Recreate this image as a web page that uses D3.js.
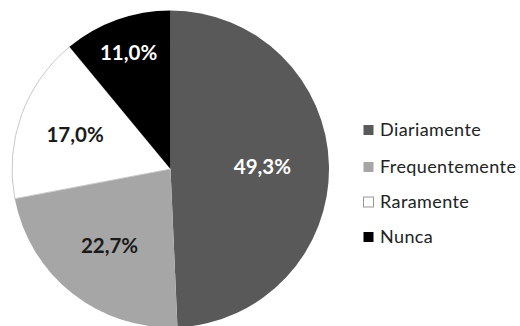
<!DOCTYPE html>
<html><head><meta charset="utf-8">
<script src="https://cdn.jsdelivr.net/npm/d3@7"></script>
<style>body{margin:0;background:#fff}svg{display:block}</style>
</head><body>
<svg id="c" width="520" height="326"></svg>
<script>
const categories = ["Diariamente", "Frequentemente", "Raramente", "Nunca"];
const values = [49.3, 22.7, 17.0, 11.0];
const labels = ["49,3%", "22,7%", "17,0%", "11,0%"];
const colors = ["#595959", "#a6a6a6", "#ffffff", "#000000"];
const labelColors = ["#ffffff", "#1a1a1a", "#1a1a1a", "#ffffff"];
const labelRadius = [0.58, 0.62, 0.64, 0.78];

const svg = d3.select("#c");
const cx = 170.5, cy = 169, r = 158.5;
const g = svg.append("g").attr("transform", `translate(${cx},${cy})`);
const data = categories.map((c, i) => ({c, v: values[i], i}));
const pie = d3.pie().value(d => d.v).sort(null);
const arc = d3.arc().innerRadius(0).outerRadius(r);
const arcs = pie(data);
g.selectAll("path").data(arcs).join("path")
  .attr("d", arc)
  .attr("fill", d => colors[d.data.i])
  .attr("stroke", d => d.data.i === 2 ? "#c8c8c8" : "none")
  .attr("stroke-width", 1);
g.selectAll("text").data(arcs).join("text")
  .attr("transform", d => {
    const a = (d.startAngle + d.endAngle) / 2;
    const rr = r * labelRadius[d.data.i];
    return `translate(${Math.sin(a) * rr},${-Math.cos(a) * rr})`;
  })
  .attr("text-anchor", "middle").attr("dy", "0.36em")
  .attr("font-family", "Lato, 'Open Sans', sans-serif")
  .attr("font-weight", "bold").attr("font-size", 20.5)
  .attr("fill", d => labelColors[d.data.i])
  .text(d => labels[d.data.i]);

const leg = svg.append("g").attr("transform", "translate(363,130)");
const rows = leg.selectAll("g").data(categories).join("g")
  .attr("transform", (d, i) => `translate(0,${[0, 37, 72, 107][i]})`);
rows.append("rect").attr("x", 0.5).attr("y", -5).attr("width", 10).attr("height", 10)
  .attr("fill", (d, i) => colors[i]).attr("stroke", (d, i) => i === 2 ? "#999" : "none");
rows.append("text").attr("x", 17).attr("dy", "0.36em")
  .attr("font-family", "Lato, 'Open Sans', sans-serif").attr("font-size", 18)
  .attr("letter-spacing", 0.4)
  .attr("fill", "#222").text(d => d);
</script>
</body></html>
